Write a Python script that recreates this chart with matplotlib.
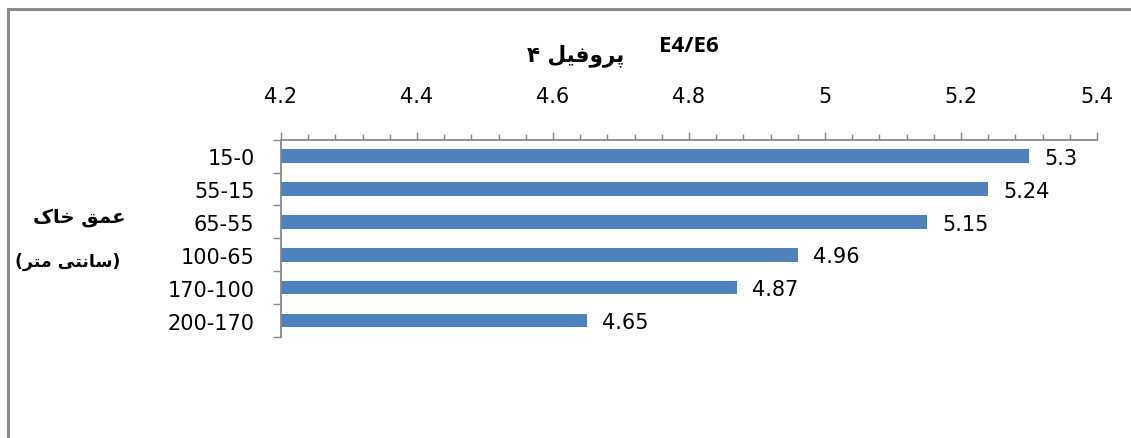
import matplotlib.pyplot as plt
from matplotlib.patches import Rectangle
from matplotlib.ticker import MultipleLocator

depths = ["15-0", "55-15", "65-55", "100-65", "170-100", "200-170"]
ratios = [5.3, 5.24, 5.15, 4.96, 4.87, 4.65]
xticks = [4.2, 4.4, 4.6, 4.8, 5.0, 5.2, 5.4]
xtick_labels = ["4.2", "4.4", "4.6", "4.8", "5", "5.2", "5.4"]

title_fa = "پروفیل ۴"
title_en = "E4/E6"
ylabel_fa = ["عمق خاک", "(سانتی متر)"]

# contextual forms: isolated, final, initial, medial
FORMS = {
    'پ': '\uFB56\uFB57\uFB58\uFB59',
    'ف': '\uFED1\uFED2\uFED3\uFED4',
    'ی': '\uFBFC\uFBFD\uFBFE\uFBFF',
    'ل': '\uFEDD\uFEDE\uFEDF\uFEE0',
    'ع': '\uFEC9\uFECA\uFECB\uFECC',
    'م': '\uFEE1\uFEE2\uFEE3\uFEE4',
    'ق': '\uFED5\uFED6\uFED7\uFED8',
    'خ': '\uFEA5\uFEA6\uFEA7\uFEA8',
    'ک': '\uFB8E\uFB8F\uFB90\uFB91',
    'س': '\uFEB1\uFEB2\uFEB3\uFEB4',
    'ن': '\uFEE5\uFEE6\uFEE7\uFEE8',
    'ت': '\uFE95\uFE96\uFE97\uFE98',
    'ر': '\uFEAD\uFEAE',
    'و': '\uFEED\uFEEE',
    'ا': '\uFE8D\uFE8E',
}


def rtl(text):
    # shape persian letters and lay them out right-to-left
    out = []
    for i, ch in enumerate(text):
        if ch not in FORMS:
            out.append(ch)
            continue
        prev = text[i - 1] if i > 0 else ''
        nxt = text[i + 1] if i + 1 < len(text) else ''
        jp = len(FORMS.get(prev, '')) == 4
        jn = len(FORMS[ch]) == 4 and nxt in FORMS
        idx = {(False, False): 0, (True, False): 1, (False, True): 2, (True, True): 3}[(jp, jn)]
        out.append(FORMS[ch][idx])
    vis = ''.join(reversed(out))
    return vis.translate(str.maketrans('()', ')('))


W, H = 1131, 439
NUM_FONT = 'DejaVu Sans'
fig = plt.figure(figsize=(W / 100, H / 100), dpi=100)
fig.patch.set_facecolor('white')

# outer chart frame
fig.patches.append(Rectangle((8 / W, -0.1), 1.2, 1.1 - 10.5 / H, transform=fig.transFigure,
                             fill=False, edgecolor='#8c8c8c', linewidth=2.2))

ax = fig.add_axes([281 / W, 1 - 338 / H, (1097 - 281) / W, (338 - 140.7) / H])

pos = range(len(depths))
ax.barh(pos, ratios, height=0.41, left=0, color='#4F81BD')
ax.set_xlim(4.2, 5.4)
ax.set_ylim(len(depths) - 0.5, -0.5)

for y, v in zip(pos, ratios):
    ax.text(v + 0.022, y + 0.05, f"{v:g}", va='center', ha='left',
            fontsize=15, family=NUM_FONT)

# x axis on top
ax.xaxis.tick_top()
ax.set_xticks(xticks)
ax.set_xticklabels(xtick_labels)
ax.xaxis.set_minor_locator(MultipleLocator(0.04))
ax.tick_params(axis='x', which='major', length=6, width=1, color='#888888', pad=18,
               labelsize=15)
ax.tick_params(axis='x', which='minor', length=4, width=1, color='#888888', top=True)

ax.set_yticks(list(pos))
ax.set_yticklabels(depths)
ax.set_yticks([i - 0.5 for i in range(len(depths) + 1)], minor=True)
ax.tick_params(axis='y', which='major', length=0, pad=19, labelsize=15)
ax.tick_params(axis='y', which='minor', length=6, width=1, color='#888888')
for lbl in ax.get_xticklabels() + ax.get_yticklabels():
    lbl.set_family(NUM_FONT)

for s in ['bottom', 'right']:
    ax.spines[s].set_visible(False)
for s in ['top', 'left']:
    ax.spines[s].set_color('#888888')
    ax.spines[s].set_linewidth(1.3)

fig.text(576 / W, 1 - 56 / H, rtl(title_fa), ha='center', va='center',
         fontsize=15.5, fontweight='bold', family='DejaVu Sans')
fig.text(689 / W, 1 - 47 / H, title_en, ha='center', va='center',
         fontsize=16, fontweight='bold', family='Open Sans')
fig.text(79 / W, 1 - 218 / H, rtl(ylabel_fa[0]), ha='center', va='center',
         fontsize=14, fontweight='bold', family='DejaVu Sans')
fig.text(68 / W, 1 - 262 / H, rtl(ylabel_fa[1]), ha='center', va='center',
         fontsize=12.5, fontweight='bold', family='DejaVu Sans')

fig.savefig('out.png', dpi=100)
